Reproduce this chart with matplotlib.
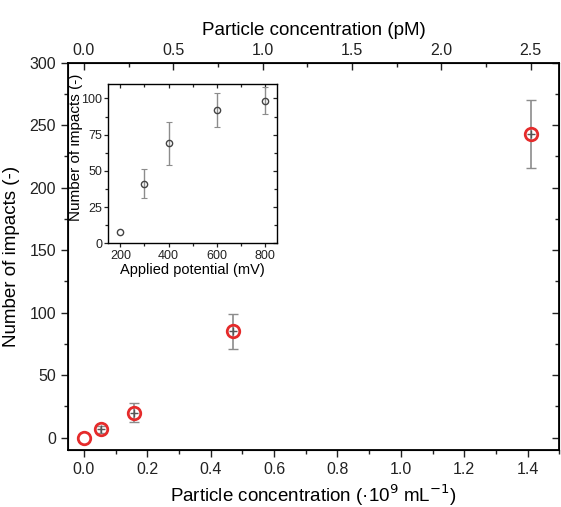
import matplotlib
matplotlib.use("Agg")
import matplotlib.pyplot as plt
from matplotlib.ticker import MultipleLocator

plt.rcParams["font.family"] = ["Liberation Sans", "DejaVu Sans"]

# main panel: impacts vs particle concentration
conc = [0.0, 0.053, 0.158, 0.47, 1.41]
impacts = [0.0, 6.5, 20.0, 85.0, 243.0]
impacts_err = [0.0, 3.0, 7.5, 14.0, 27.0]
PM_PER_UNIT = 2.5 / 1.41

# inset: impacts vs applied potential
potential = [200, 300, 400, 600, 800]
inset_impacts = [7.5, 41.0, 69.0, 92.0, 98.5]
inset_err = [0.0, 10.0, 15.0, 11.5, 9.5]

RED = "#e52b2b"
GREY = "#8c8c8c"


def ticks_inward(axis):
    # flip the second (right / top) set of tick lines so they point into the axes
    lines = axis.get_ticklines(minor=False)[1::2] + axis.get_ticklines(minor=True)[1::2]
    mark = matplotlib.lines.TICKLEFT if axis.axis_name == "y" else matplotlib.lines.TICKDOWN
    for t in lines:
        t.set_marker(mark)


def with_err(x, y, err):
    idx = [i for i, e in enumerate(err) if e > 0]
    return [x[i] for i in idx], [y[i] for i in idx], [err[i] for i in idx]


fig = plt.figure(figsize=(5.61, 5.07), dpi=100)
ax = fig.add_axes([0.1212, 0.1124, 0.8758, 0.7639])
ex, ey, ee = with_err(conc, impacts, impacts_err)
ax.errorbar(ex, ey, yerr=ee, fmt="none", ecolor=GREY, elinewidth=1.2,
            capsize=3.5, capthick=1.0, zorder=2)
ax.plot(ex, ey, "+", ms=6, mew=1.0, color="#555555", zorder=3)
ax.plot(conc, impacts, "o", ms=9, mfc="none", mec=RED, mew=2.0, zorder=4)
ax.set_xlim(-0.05, 1.5)
ax.set_ylim(-10, 300)
ax.xaxis.set_major_locator(MultipleLocator(0.2))
ax.xaxis.set_minor_locator(MultipleLocator(0.1))
ax.yaxis.set_major_locator(MultipleLocator(50))
ax.yaxis.set_minor_locator(MultipleLocator(25))
ax.tick_params(which="both", direction="out", width=1.0, labelsize=11.5, colors="#222222")
ax.tick_params(which="both", axis="y", right=True)
ax.tick_params(which="major", length=5)
ax.tick_params(which="minor", length=3)
for s in ax.spines.values():
    s.set_linewidth(1.3)
ax.set_xlabel("Particle concentration (·10$^{9}$ mL$^{-1}$)", fontsize=13.5, labelpad=4)
ax.set_ylabel("Number of impacts (-)", fontsize=13.5)
ax.yaxis.set_label_coords(-0.098, 0.5)
ticks_inward(ax.yaxis)

top = ax.twiny()
top.set_xlim(-0.05 * PM_PER_UNIT, 1.5 * PM_PER_UNIT)
top.xaxis.set_major_locator(MultipleLocator(0.5))
top.xaxis.set_minor_locator(MultipleLocator(0.25))
top.tick_params(which="both", direction="in", width=1.0, labelsize=11.5, colors="#222222")
top.tick_params(which="major", length=5)
top.tick_params(which="minor", length=3)
top.set_xlabel("Particle concentration (pM)", fontsize=13.5, labelpad=6)

ins = fig.add_axes([0.1930, 0.5201, 0.3013, 0.3142])
px, py, pe = with_err(potential, inset_impacts, inset_err)
ins.errorbar(px, py, yerr=pe, fmt="none", ecolor=GREY, elinewidth=1.0,
             capsize=2, capthick=0.8, zorder=2)
ins.plot(potential, inset_impacts, "o", ms=4.5, mfc="none", mec="#444444", mew=1.0, zorder=3)
ins.set_xlim(150, 850)
ins.set_ylim(0, 110)
ins.xaxis.set_major_locator(MultipleLocator(200))
ins.xaxis.set_minor_locator(MultipleLocator(100))
ins.yaxis.set_major_locator(MultipleLocator(25))
ins.yaxis.set_minor_locator(MultipleLocator(12.5))
ins.tick_params(which="both", direction="out", width=0.9, labelsize=9, colors="#222222",
                top=True, right=True, pad=1.5)
ins.tick_params(which="major", length=3)
ins.tick_params(which="minor", length=2)
ticks_inward(ins.yaxis)
ticks_inward(ins.xaxis)
for s in ins.spines.values():
    s.set_linewidth(1.0)
ins.set_xlabel("Applied potential (mV)", fontsize=10.5, labelpad=1)
ins.set_ylabel("Number of impacts (-)", fontsize=11)
ins.yaxis.set_label_coords(-0.152, 0.6)

fig.savefig("out.png", dpi=100)
